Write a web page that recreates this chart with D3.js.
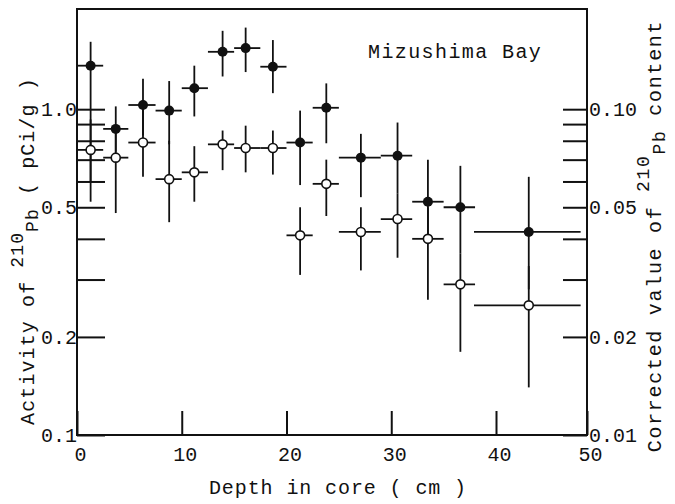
<!DOCTYPE html>
<html>
<head>
<meta charset="utf-8">
<script src="https://cdn.jsdelivr.net/npm/d3@7"></script>
<style>
  body { margin: 0; background: #fff; }
  text { font-family: "Liberation Mono", "DejaVu Sans Mono", monospace; fill: #111; }
</style>
</head>
<body>
<div id="chart"></div>
<script>
// depth of each slice (cm) and the slice range
var depth     = [1.3, 3.7, 6.3, 8.8, 11.2, 13.9, 16.1, 18.7, 21.3, 23.8, 27.1, 30.6, 33.5, 36.6, 43.6];
var depthFrom = [0, 2.5, 4.9, 7.5, 10, 12.5, 15, 17.5, 20, 22.5, 25, 29, 32, 35, 37.9];
var depthTo   = [2.5, 4.9, 7.5, 10, 12.5, 15, 17.5, 20, 22.5, 25, 29, 32, 35, 38, 49.3];

// activity of 210Pb (pCi/g), left axis - filled circles
var activity   = [1.36, 0.87, 1.03, 0.99, 1.16, 1.50, 1.54, 1.35, 0.79, 1.01, 0.71, 0.72, 0.52, 0.50, 0.42];
var activityLo = [0.52, 0.74, 0.83, 0.78, 0.95, 1.26, 1.30, 1.12, 0.585, 0.786, 0.537, 0.55, 0.40, 0.36, 0.28];
var activityHi = [1.61, 1.02, 1.24, 1.22, 1.36, 1.74, 1.78, 1.63, 0.99, 1.20, 0.84, 0.91, 0.70, 0.67, 0.62];

// corrected value of 210Pb content, right axis - open circles
var corrected   = [0.075, 0.071, 0.079, 0.061, 0.064, 0.078, 0.076, 0.076, 0.041, 0.059, 0.042, 0.046, 0.040, 0.029, 0.025];
var correctedLo = [0.060, 0.048, 0.062, 0.045, 0.052, 0.065, 0.064, 0.063, 0.031, 0.047, 0.032, 0.035, 0.026, 0.018, 0.014];
var correctedHi = [0.093, 0.087, 0.100, 0.080, 0.077, 0.086, 0.089, 0.086, 0.050, 0.070, 0.050, 0.055, 0.050, 0.036, 0.033];

var xTicks = [0, 10, 20, 30, 40, 50];
var leftTicks = [0.1, 0.2, 0.3, 0.4, 0.5, 0.6, 0.7, 0.8, 0.9, 1.0];
var leftLabels = {0.1: "0.1", 0.2: "0.2", 0.5: "0.5", 1.0: "1.0"};
var rightTicks = [0.01, 0.02, 0.03, 0.04, 0.05, 0.06, 0.07, 0.08, 0.09, 0.10];
var rightLabels = {0.01: "0.01", 0.02: "0.02", 0.05: "0.05", 0.1: "0.10"};

var W = 675, H = 504;
var pl = 77, pr = 587, pt = 9, pb = 435;

var svg = d3.select('#chart').append('svg')
    .attr('width', W).attr('height', H);

// the drawn axis is slightly compressed between 40 and 50
var x = d3.scaleLinear().domain([0, 40, 50]).range([pl, 496, pr]);
var y = d3.scaleLog().domain([0.1, 2.03]).range([pb, pt]);
var yR = d3.scaleLog().domain([0.01, 0.203]).range([pb, pt]);

var pts = depth.map(function(d, i) {
    return {d: d, d0: depthFrom[i], d1: depthTo[i],
            a: activity[i], a0: activityLo[i], a1: activityHi[i],
            c: corrected[i], c0: correctedLo[i], c1: correctedHi[i]};
});

// axes
var xAxis = svg.append('g')
    .attr('transform', 'translate(0,' + pb + ')')
    .call(d3.axisBottom(x).tickValues(xTicks).tickSize(-24).tickSizeOuter(0).tickPadding(12)
        .tickFormat(function(d){ return d; }));

var yAxis = svg.append('g')
    .attr('transform', 'translate(' + pl + ',0)')
    .call(d3.axisLeft(y).tickValues(leftTicks).tickSize(-28).tickSizeOuter(0).tickPadding(0)
        .tickFormat(function(d){ return leftLabels[d] || ''; }));

var yAxisR = svg.append('g')
    .attr('transform', 'translate(' + pr + ',0)')
    .call(d3.axisRight(yR).tickValues(rightTicks).tickSize(-24).tickSizeOuter(0).tickPadding(2)
        .tickFormat(function(d){ return rightLabels[+d.toFixed(2)] || ''; }));

[xAxis, yAxis, yAxisR].forEach(function(g) {
    g.select('.domain').remove();
    g.selectAll('line').attr('stroke', '#111').attr('stroke-width', 2);
    g.selectAll('text')
        .attr('font-family', '"Liberation Mono", monospace')
        .attr('font-size', 20)
        .attr('fill', '#111');
});
xAxis.selectAll('text').attr('dx', 3);

// frame
svg.append('rect')
    .attr('x', pl).attr('y', pt)
    .attr('width', pr - pl).attr('height', pb - pt)
    .attr('fill', 'none').attr('stroke', '#111').attr('stroke-width', 2);

// error bars
var bars = svg.append('g').attr('stroke', '#111').attr('stroke-width', 1.8);
pts.forEach(function(p) {
    bars.append('line').attr('x1', x(p.d)).attr('x2', x(p.d)).attr('y1', y(p.a0)).attr('y2', y(p.a1));
    bars.append('line').attr('x1', x(p.d0)).attr('x2', x(p.d1)).attr('y1', y(p.a)).attr('y2', y(p.a));
    bars.append('line').attr('x1', x(p.d)).attr('x2', x(p.d)).attr('y1', yR(p.c0)).attr('y2', yR(p.c1));
    bars.append('line').attr('x1', x(p.d0)).attr('x2', x(p.d1)).attr('y1', yR(p.c)).attr('y2', yR(p.c));
});

svg.append('g').selectAll('circle.open')
    .data(pts).enter().append('circle')
    .attr('cx', function(d){ return x(d.d); })
    .attr('cy', function(d){ return yR(d.c); })
    .attr('r', 4.5)
    .attr('fill', '#fff').attr('stroke', '#111').attr('stroke-width', 1.6);

svg.append('g').selectAll('circle.filled')
    .data(pts).enter().append('circle')
    .attr('cx', function(d){ return x(d.d); })
    .attr('cy', function(d){ return y(d.a); })
    .attr('r', 5)
    .attr('fill', '#111');

// texts
svg.append('text')
    .attr('x', 368).attr('y', 58)
    .attr('font-size', 20).attr('letter-spacing', 1.4)
    .text('Mizushima Bay');

svg.append('text')
    .attr('x', 338).attr('y', 494)
    .attr('text-anchor', 'middle')
    .attr('font-size', 20).attr('letter-spacing', 0.9)
    .text('Depth in core ( cm )');

var yl = svg.append('text')
    .attr('transform', 'translate(34,251) rotate(-90)')
    .attr('text-anchor', 'middle')
    .attr('font-size', 20).attr('letter-spacing', 1.1);
yl.append('tspan').text('Activity of ');
yl.append('tspan').attr('dy', -11).attr('font-size', 18).text('210');
yl.append('tspan').attr('dy', 15).attr('font-size', 18).text('Pb');
yl.append('tspan').attr('dy', -4).text(' ( pCi/g )');

var yr = svg.append('text')
    .attr('transform', 'translate(661,236) rotate(-90)')
    .attr('text-anchor', 'middle')
    .attr('font-size', 20).attr('letter-spacing', 1.7);
yr.append('tspan').text('Corrected value of ');
yr.append('tspan').attr('dy', -12).attr('font-size', 18).text('210');
yr.append('tspan').attr('dy', 16).attr('font-size', 18).text('Pb');
yr.append('tspan').attr('dy', -4).text(' content');
</script>
</body>
</html>
